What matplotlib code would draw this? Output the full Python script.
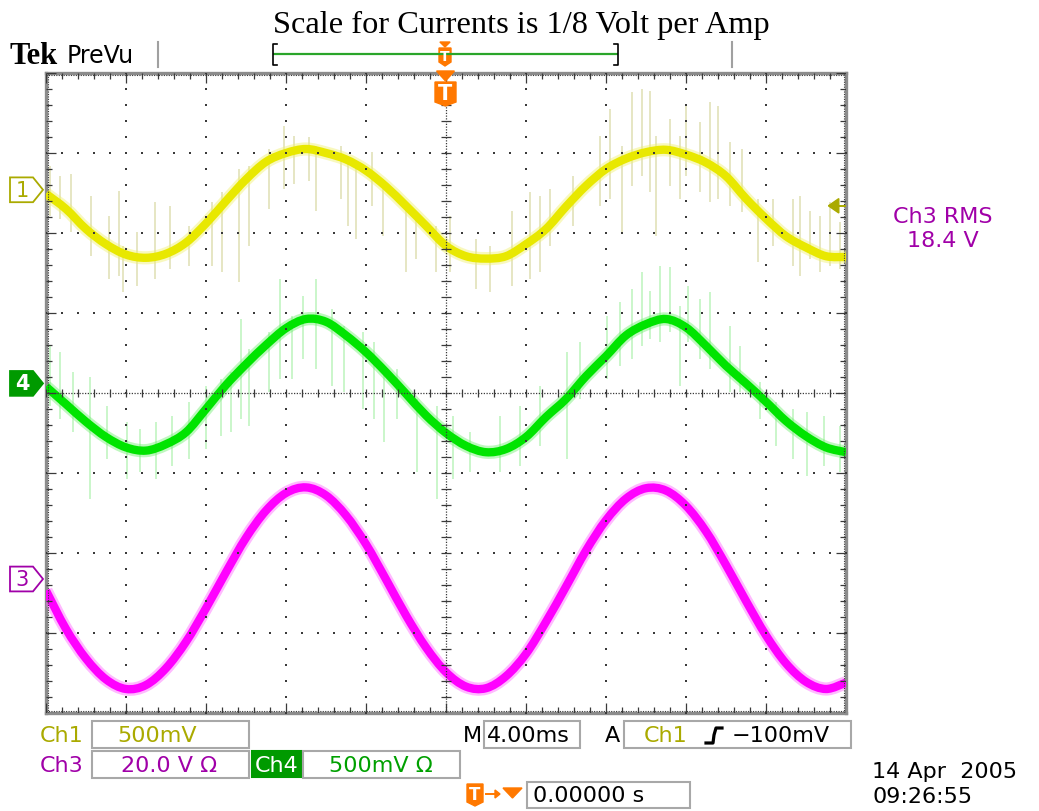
import numpy as np
import matplotlib
matplotlib.use("Agg")
import matplotlib.pyplot as plt
from matplotlib.patches import Polygon, Rectangle, PathPatch
from matplotlib.path import Path
from matplotlib.transforms import Affine2D, blended_transform_factory

# ---------------- data ----------------
TITLE = "Scale for Currents is 1/8 Volt per Amp"

# sample positions across the 10 horizontal divisions of the screen
t_div = np.linspace(0, 10, 41)

# trace values in vertical divisions (0 = screen centre)
ch1 = [2.49, 2.30, 2.05, 1.86, 1.73, 1.69, 1.74, 1.88, 2.12, 2.40, 2.67, 2.89, 3.00, 3.05,
       3.00, 2.92, 2.78, 2.58, 2.34, 2.09, 1.84, 1.71, 1.68, 1.71, 1.86, 2.05, 2.33, 2.59,
       2.80, 2.93, 3.01, 3.04, 2.98, 2.88, 2.71, 2.43, 2.18, 1.96, 1.82, 1.71, 1.70]
ch4 = [0.08, -0.14, -0.36, -0.55, -0.68, -0.72, -0.64, -0.49, -0.20, 0.10, 0.36, 0.60, 0.81,
       0.925, 0.89, 0.72, 0.51, 0.26, -0.01, -0.28, -0.50, -0.66, -0.74, -0.70, -0.55, -0.30,
       -0.075, 0.21, 0.46, 0.72, 0.86, 0.925, 0.82, 0.59, 0.34, 0.12, -0.11, -0.35, -0.54,
       -0.68, -0.74]
ch3 = [-2.47, -2.95, -3.32, -3.58, -3.70, -3.65, -3.44, -3.11, -2.69, -2.24, -1.81, -1.47,
       -1.25, -1.18, -1.28, -1.53, -1.89, -2.33, -2.78, -3.18, -3.49, -3.67, -3.69, -3.54,
       -3.26, -2.86, -2.42, -1.97, -1.59, -1.32, -1.19, -1.22, -1.41, -1.73, -2.15, -2.60,
       -3.03, -3.38, -3.61, -3.70, -3.62]

# switching spikes riding on the current traces: position, top, bottom (divisions)
ch1_spike_x = [0.05, 0.17, 0.31, 0.56, 0.79, 0.91, 0.96, 1.14, 1.36, 1.55, 1.79, 2.08, 2.20,
               2.41, 2.54, 2.79, 2.98, 3.10, 3.29, 3.37, 3.69, 3.77, 3.88, 4.08, 4.21, 4.50,
               4.62, 4.88, 5.05, 5.38, 5.55, 5.82, 6.05, 6.18, 6.30, 6.59, 6.92, 7.05, 7.20,
               7.32, 7.45, 7.55, 7.63, 7.80, 7.92, 8.00, 8.17, 8.30, 8.40, 8.55, 8.70, 8.90,
               9.09, 9.34, 9.42, 9.55, 9.67, 9.80, 9.92]
ch1_spike_top = [2.84, 2.71, 2.74, 2.46, 2.21, 2.53, 1.84, 2.01, 2.39, 2.34, 2.09, 2.39, 2.51,
                 2.80, 2.84, 3.05, 3.34, 3.21, 3.20, 3.09, 3.09, 2.93, 2.84, 3.01, 2.55, 2.39,
                 2.21, 2.09, 2.21, 1.93, 1.84, 2.28, 2.51, 2.46, 2.55, 2.71, 3.21, 3.55, 3.09,
                 3.76, 3.80, 3.78, 3.21, 3.43, 3.21, 3.59, 3.39, 3.64, 3.59, 3.14, 3.05, 2.43,
                 2.43, 2.43, 2.46, 2.28, 2.21, 2.39, 2.14]
ch1_spike_bot = [2.21, 2.17, 2.01, 1.71, 1.42, 1.46, 1.26, 1.34, 1.42, 1.55, 1.59, 1.59, 1.51,
                 1.39, 1.84, 2.30, 2.55, 2.61, 2.65, 2.28, 2.43, 2.09, 1.93, 2.34, 1.96, 1.51,
                 1.68, 1.51, 1.51, 1.30, 1.26, 1.34, 1.42, 1.51, 1.84, 2.09, 2.34, 2.43, 2.01,
                 2.59, 2.71, 2.51, 1.96, 2.59, 2.43, 2.71, 2.51, 2.39, 2.43, 2.34, 2.26, 1.64,
                 1.84, 1.59, 1.46, 1.68, 1.51, 1.59, 1.55]

ch4_spike_x = [0.05, 0.17, 0.34, 0.55, 0.76, 1.01, 1.17, 1.38, 1.58, 1.79, 2.00, 2.19, 2.31,
               2.44, 2.54, 2.79, 2.93, 3.07, 3.21, 3.38, 3.57, 3.73, 3.96, 4.10, 4.23, 4.39,
               4.64, 4.89, 5.09, 5.30, 5.68, 5.93, 6.18, 6.51, 6.68, 7.01, 7.18, 7.32, 7.45,
               7.55, 7.68, 7.80, 7.92, 8.03, 8.17, 8.30, 8.55, 8.67, 8.92, 9.13, 9.34, 9.51,
               9.72, 9.92]
ch4_spike_top = [0.59, 0.51, 0.26, 0.20, -0.16, -0.36, -0.45, -0.36, -0.29, -0.11, 0.09, 0.18,
                 0.26, 0.93, 0.55, 0.76, 1.43, 0.96, 1.21, 1.43, 1.05, 0.84, 0.76, 0.64, 0.26,
                 0.30, -0.08, -0.16, -0.29, -0.49, -0.29, -0.16, 0.09, 0.51, 0.64, 0.96, 1.14,
                 1.30, 1.51, 1.28, 1.59, 1.57, 1.09, 1.34, 1.18, 1.26, 0.84, 0.59, 0.14, -0.11,
                 -0.20, -0.24, -0.29, -0.41]
ch4_spike_bot = [-0.16, -0.33, -0.49, -1.33, -0.83, -1.08, -0.99, -1.08, -0.91, -0.83, -0.70,
                 -0.54, -0.49, -0.33, -0.41, 0.01, 0.18, 0.18, 0.43, 0.30, 0.09, 0.01, -0.20,
                 -0.33, -0.61, -0.33, -0.99, -1.33, -1.08, -0.99, -0.99, -0.91, -0.66, -0.83,
                 -0.08, 0.18, 0.34, 0.43, 0.59, 0.68, 0.64, 0.76, 0.09, 0.64, 0.43, 0.30, 0.01,
                 0.01, -0.33, -0.66, -0.83, -1.04, -0.91, -0.99]

# channel ground markers (divisions) and trigger level
ch1_level, ch4_level, ch3_level = 2.54, 0.12, -2.325
ch1_scale_v = 0.5          # volts per division
trigger_v = -0.100         # trigger level, volts

rms_label = ["Ch3 RMS", "18.4 V"]
date_label = ["14 Apr  2005", "09:26:55"]

# ---------------- colours ----------------
YEL, YEL_HALO, YEL_SPIKE = "#e8e800", "#f0f070", "#dcdcaa"
GRN, GRN_HALO, GRN_SPIKE = "#00e400", "#72ee72", "#b4f2b4"
MAG, MAG_HALO = "#ff00ff", "#ff66ff"
OLIVE, PURPLE, DKGRN = "#aaaa00", "#a000a8", "#009a00"
ORANGE = "#ff7800"
GRID = "#3a3a3a"
BOXC = "#a8a8a8"
SCOPE_FONT = "DejaVu Sans"
FS = 16

W, H = 1039, 812
fig = plt.figure(figsize=(W / 100, H / 100), dpi=100)
fig.patch.set_facecolor("white")
# pixel coordinates, origin top-left
pix = Affine2D().scale(1 / W, -1 / H).translate(0, 1) + fig.transFigure

ax = fig.add_axes([46 / W, 1 - 714 / H, 800 / W, 640 / H])
ax.set_xlim(0, 10)
ax.set_ylim(-4, 4)
ax.set_xticks([])
ax.set_yticks([])
for sp in ax.spines.values():
    sp.set_color("#8c8c8c")
    sp.set_linewidth(2.4)

# ---------------- graticule ----------------
mx = np.arange(0, 10.001, 0.2)
my = np.arange(-4, 4.001, 0.2)
for gx in range(1, 10):
    if gx == 5:
        continue
    ax.plot(np.full(len(my), gx), my, ls="none", marker="s", ms=1.5, mew=0,
            color=GRID, zorder=5)
for gy in range(-3, 4):
    if gy == 0:
        continue
    ax.plot(mx, np.full(len(mx), gy), ls="none", marker="s", ms=1.5, mew=0,
            color=GRID, zorder=5)

# centre cross with minor ticks
ax.plot([0, 10], [0, 0], color=GRID, lw=0.9, ls=(0, (1, 1.2)), zorder=5)
ax.plot([5, 5], [-4, 4], color=GRID, lw=0.9, ls=(0, (1, 1.2)), zorder=5)
ax.vlines(mx, -0.05, 0.05, color=GRID, lw=0.9, zorder=5)
ax.hlines(my, 4.94, 5.06, color=GRID, lw=0.9, zorder=5)

# edge ticks
e = 0.03
ax.plot([0, 10], [4 - e, 4 - e], color=GRID, lw=0.8, ls=(0, (1, 1.2)), zorder=5)
ax.plot([0, 10], [-4 + e, -4 + e], color=GRID, lw=0.8, ls=(0, (1, 1.2)), zorder=5)
ax.plot([e, e], [-4, 4], color=GRID, lw=0.8, ls=(0, (1, 1.2)), zorder=5)
ax.plot([10 - e, 10 - e], [-4, 4], color=GRID, lw=0.8, ls=(0, (1, 1.2)), zorder=5)
tick_len_x = np.where(np.isclose(mx % 1, 0) | np.isclose(mx % 1, 1), 0.13, 0.07)
tick_len_y = np.where(np.isclose(my % 1, 0) | np.isclose(my % 1, 1), 0.13, 0.07)
ax.vlines(mx, 4 - tick_len_x, 4, color=GRID, lw=0.9, zorder=5)
ax.vlines(mx, -4, -4 + tick_len_x, color=GRID, lw=0.9, zorder=5)
ax.hlines(my, 0, tick_len_y, color=GRID, lw=0.9, zorder=5)
ax.hlines(my, 10 - tick_len_y, 10, color=GRID, lw=0.9, zorder=5)

# ---------------- traces ----------------
ax.vlines(ch1_spike_x, ch1_spike_bot, ch1_spike_top, color=YEL_SPIKE, lw=1.1,
          alpha=0.9, zorder=2)
ax.vlines(ch4_spike_x, ch4_spike_bot, ch4_spike_top, color=GRN_SPIKE, lw=1.1,
          alpha=0.9, zorder=2)


def smooth_path(x, y):
    """Cubic Bezier path passing through every sample (Catmull-Rom tangents)."""
    p = np.column_stack([x, y])
    ext = np.vstack([p[0], p, p[-1]])
    verts = [p[0]]
    codes = [Path.MOVETO]
    for i in range(len(p) - 1):
        p0, p1, p2, p3 = ext[i], ext[i + 1], ext[i + 2], ext[i + 3]
        verts += [p1 + (p2 - p0) / 6, p2 - (p3 - p1) / 6, p2]
        codes += [Path.CURVE4] * 3
    return Path(verts, codes)


for vals, core, halo in ((ch1, YEL, YEL_HALO), (ch4, GRN, GRN_HALO), (ch3, MAG, MAG_HALO)):
    path = smooth_path(t_div, vals)
    ax.add_patch(PathPatch(path, fill=False, edgecolor=halo, lw=9.5, alpha=0.45,
                           capstyle="butt", joinstyle="round", zorder=3))
    ax.add_patch(PathPatch(path, fill=False, edgecolor=core, lw=6.0,
                           capstyle="butt", joinstyle="round", zorder=3.2))

# ---------------- channel markers ----------------
btf = blended_transform_factory(pix, ax.transData)


def chan_marker(level, label, edge, face, txtcol):
    h = 0.155
    verts = [(10, level + h), (33, level + h), (43, level), (33, level - h), (10, level - h)]
    ax.add_patch(Polygon(verts, closed=True, transform=btf, facecolor=face,
                         edgecolor=edge, lw=1.3, clip_on=False, zorder=6))
    ax.text(22, level, label, transform=btf, ha="center", va="center", color=txtcol,
            fontsize=15, family=SCOPE_FONT, clip_on=False, zorder=7,
            fontweight="bold" if face != "white" else "normal")


chan_marker(ch1_level, "1", OLIVE, "white", OLIVE)
chan_marker(ch4_level, "4", DKGRN, DKGRN, "white")
chan_marker(ch3_level, "3", PURPLE, "white", PURPLE)

# trigger level arrow on the right edge
trig_div = ch1_level + trigger_v / ch1_scale_v
ax.add_patch(Polygon([(9.78, trig_div), (9.91, trig_div + 0.09), (9.91, trig_div - 0.09)],
                     closed=True, color=OLIVE, clip_on=False, zorder=6))
ax.plot([9.91, 10.0], [trig_div, trig_div], color=OLIVE, lw=1.4, zorder=6)

# ---------------- header ----------------
fig.text(521, 33, TITLE, transform=pix, ha="center", va="baseline",
         family="Liberation Serif", fontsize=23.3, color="black")
fig.text(10, 64, "Tek", transform=pix, ha="left", va="baseline",
         family="Liberation Serif", fontsize=22, fontweight="bold", color="black")
fig.text(67, 63, "PreVu", transform=pix, ha="left", va="baseline",
         family=SCOPE_FONT, fontsize=17, color="black")
for xs in (158, 732):
    fig.add_artist(plt.Line2D([xs, xs], [43, 68], transform=pix, color="#a0a0a0", lw=1.5))

# record bar with brackets
fig.add_artist(plt.Line2D([274, 617], [55, 55], transform=pix, color="#2aa52a", lw=1.6))
fig.add_artist(plt.Line2D([277, 273, 273, 277], [45, 45, 66, 66], transform=pix,
                          color="black", lw=1.2))
fig.add_artist(plt.Line2D([614, 618, 618, 614], [45, 45, 66, 66], transform=pix,
                          color="black", lw=1.2))


def t_marker(xc, y_tri, y0, y1, half_w, fs, with_tri=True):
    if with_tri:
        fig.add_artist(Polygon([(xc - half_w * 0.85, y_tri), (xc + half_w * 0.85, y_tri),
                                (xc, y0 - 1)], closed=True, transform=pix,
                               color=ORANGE))
    fig.add_artist(Polygon([(xc - half_w, y0), (xc + half_w, y0), (xc + half_w, y1 - 4),
                            (xc, y1), (xc - half_w, y1 - 4)], closed=True,
                           transform=pix, color=ORANGE))
    fig.text(xc, (y0 + y1) / 2 - 1, "T", transform=pix, ha="center", va="center",
             color="white", fontsize=fs, fontweight="bold", family=SCOPE_FONT)


t_marker(445, 43, 49, 67, 6, 10)
t_marker(445.5, 72, 83, 107, 10.5, 15)

# ---------------- readouts ----------------
def box(x0, x1, y0, y1, face="white", edge=BOXC):
    fig.add_artist(Rectangle((x0, y0), x1 - x0, y1 - y0, transform=pix,
                             facecolor=face, edgecolor=edge, lw=1.5))


def label(x, y, s, color="black", ha="left", fs=FS):
    fig.text(x, y, s, transform=pix, ha=ha, va="center", color=color,
             fontsize=fs, family=SCOPE_FONT)


# row 1
label(40, 736, "Ch1", OLIVE)
box(92, 249, 722, 749)
label(117, 736, "500mV", OLIVE)
label(463, 736, "M")
box(484, 580, 722, 749)
label(487, 736, "4.00ms")
label(605, 736, "A")
box(624, 851, 722, 749)
label(644, 736, "Ch1", OLIVE)
fig.add_artist(plt.Line2D([706, 713, 714, 716, 722], [744, 744, 736, 729, 729],
                          transform=pix, color="black", lw=2.3))
label(732, 736, "\u2212100mV")

# row 2
label(40, 766, "Ch3", PURPLE)
box(92, 249, 752, 779)
label(121, 766, "20.0 V \u03a9", PURPLE)
box(252, 301, 752, 778, face=DKGRN, edge=DKGRN)
label(276.5, 766, "Ch4", "white", ha="center")
box(303, 460, 752, 779)
label(329, 766, "500mV \u03a9", "#00a000")

# row 3: trigger position
fig.add_artist(Polygon([(467, 785), (483, 785), (483, 803), (475, 807), (467, 803)],
                       closed=True, transform=pix, color=ORANGE))
fig.text(475, 795, "T", transform=pix, ha="center", va="center", color="white",
         fontsize=12, fontweight="bold", family=SCOPE_FONT)
fig.add_artist(plt.Line2D([486, 498], [795, 795], transform=pix, color=ORANGE, lw=1.4))
fig.add_artist(Polygon([(495, 791), (500, 795), (495, 799)], closed=True, transform=pix,
                       color=ORANGE))
fig.add_artist(Polygon([(503, 789), (522, 789), (512.5, 799)], closed=True, transform=pix,
                       color=ORANGE))
box(527, 690, 783, 809)
label(533, 796, "0.00000 s")

# measurement and timestamp
label(943, 217, rms_label[0], PURPLE, ha="center")
label(943, 241, rms_label[1], PURPLE, ha="center")
label(872, 772, date_label[0])
label(872, 797, date_label[1])

fig.savefig("out.png", dpi=100, facecolor="white")
